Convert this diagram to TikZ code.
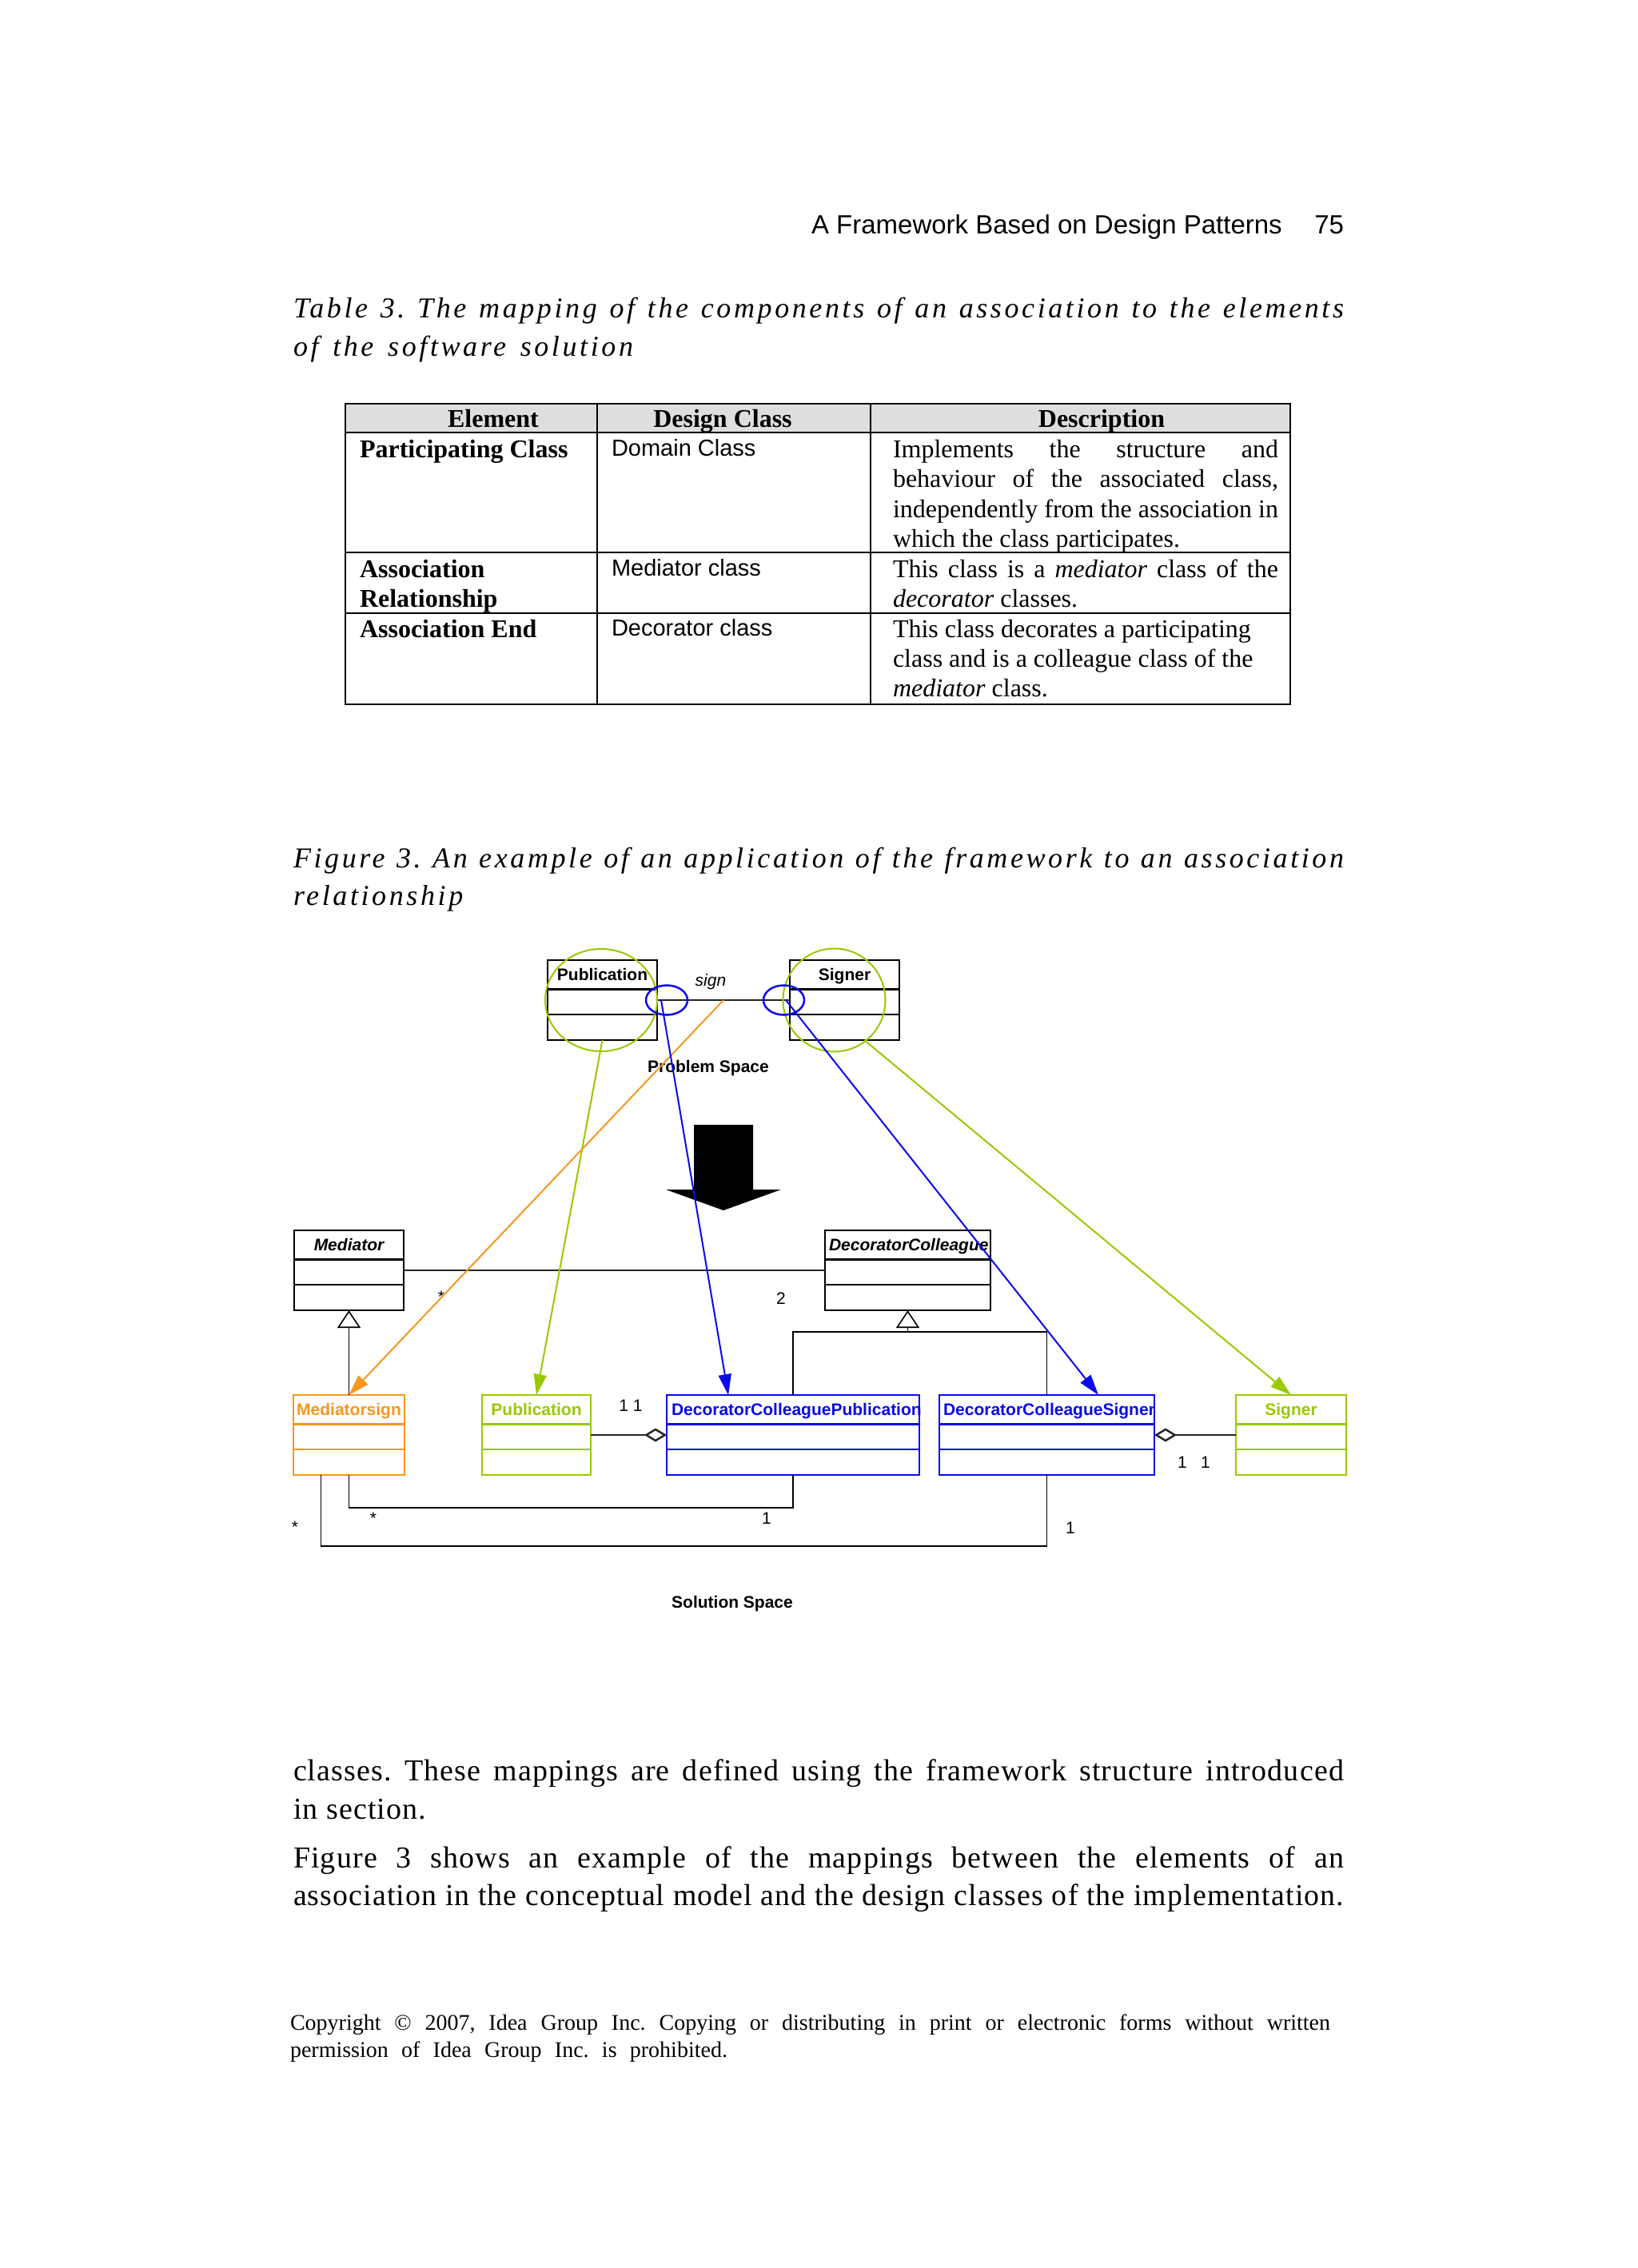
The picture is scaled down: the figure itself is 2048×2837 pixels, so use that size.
\documentclass[tikz,border=0pt]{standalone}
\usepackage{fontspec}
\usepackage{graphicx}
\setmainfont{Liberation Serif}
\setsansfont{Liberation Sans}
\newfontfamily\capfam{Liberation Serif}[LetterSpace=10]
\newfontfamily\bodyfam{Liberation Serif}[LetterSpace=3]
\usetikzlibrary{arrows.meta,shapes.geometric,calc}
\definecolor{umlorange}{RGB}{245,152,30}
\definecolor{umlgreen}{RGB}{153,201,0}
\definecolor{umlblue}{RGB}{10,10,235}
\definecolor{tablegray}{RGB}{222,222,222}
\newcommand\jl[2]{\setbox0=\hbox{#2}\ifdim\wd0<#1pt\relax\makebox[#1pt][s]{#2}\else\resizebox{#1pt}{\height}{#2}\fi}
\newcommand\dfont{\sffamily\bfseries\fontsize{21}{25}\selectfont}
\newcommand\difont{\sffamily\bfseries\itshape\fontsize{21}{25}\selectfont}
\newcommand\mfont{\sffamily\fontsize{21}{25}\selectfont}
\newcommand\tbfont{\rmfamily\fontsize{32}{38}\selectfont}
\newcommand\tsfont{\sffamily\fontsize{29}{35}\selectfont}
\newcommand\capfont{\capfam\itshape\fontsize{36}{44}\selectfont}
\newcommand\bodyfont{\bodyfam\fontsize{38}{48}\selectfont}
% #1 name, #2 left, #3 top, #4 right, #5 colour
\newcommand\klass[5]{%
  \node[klass, draw=#5, minimum width={#4-#2}, minimum height=100] (#1) at ({(#2+#4)/2},{#3+50}) {};
  \draw[#5, line width=2.5pt] (#2,#3+36.5) -- (#4,#3+36.5) (#2,#3+68) -- (#4,#3+68);
}
\begin{document}
\frenchspacing
\begin{tikzpicture}[x=1pt,y=-1pt,
  klass/.style={rectangle, line width=2.5pt, inner sep=0pt, outer sep=0pt},
  txt/.style={inner sep=0pt, outer sep=0pt},
  assoc/.style={draw=black!85, line width=2.5pt},
  thinl/.style={draw=black, line width=1.6pt},
  gen/.style={thinl, -{Triangle[fill=white, length=22pt, width=29pt]}},
  aggE/.style={assoc, -{Diamond[fill=white, length=28pt, width=17pt]}},
  aggS/.style={assoc, {Diamond[fill=white, length=28pt, width=17pt]}-},
  carr/.style={line width=2pt, -{Triangle[length=26pt, width=16pt]}},
  tline/.style={line width=2.5pt}
]
\fill[white] (0,0) rectangle (2048,2837);
\path[use as bounding box] (0,0) rectangle (2048,2837);

% ---------- running head ----------
\node[txt, anchor=base west] (hdr) at (1015,292) {\sffamily\fontsize{33}{40}\selectfont A Framework Based on Design Patterns};
\node[txt, anchor=base east] (pgno) at (1681,292) {\sffamily\fontsize{33}{40}\selectfont 75};

% ---------- table caption ----------
\node[txt, anchor=base west] (tc1) at (367,397) {\capfont\jl{1314}{Table 3. The mapping of the components of an association to the elements}};
\node[txt, anchor=base west] (tc2) at (367,445) {\capfont\jl{425}{of the software solution}};

% ---------- table ----------
\fill[tablegray] (432,505) rectangle (1614,541);
\draw[tline] (432,505) rectangle (1614,881);
\draw[tline] (432,541) -- (1614,541) (432,691) -- (1614,691) (432,767) -- (1614,767)
  (747,505) -- (747,881) (1089,505) -- (1089,881);

\node[txt, anchor=base] (h1) at (617,534) {\tbfont\bfseries Element};
\node[txt, anchor=base] (h2) at (904,534) {\tbfont\bfseries Design Class};
\node[txt, anchor=base] (h3) at (1378,534) {\tbfont\bfseries Description};

\node[txt, anchor=base west] (r1a) at (450,572) {\tbfont\bfseries Participating Class};
\node[txt, anchor=base west] (r1b) at (765,570) {\tsfont Domain Class};
\node[txt, anchor=base west] (r1c1) at (1117,572) {\tbfont\jl{482}{Implements the structure and}};
\node[txt, anchor=base west] (r1c2) at (1117,609) {\tbfont\jl{482}{behaviour of the associated class,}};
\node[txt, anchor=base west] (r1c3) at (1117,647) {\tbfont\jl{482}{independently from the association in}};
\node[txt, anchor=base west] (r1c4) at (1117,684) {\tbfont which the class participates.};

\node[txt, anchor=base west] (r2a1) at (450,722) {\tbfont\bfseries Association};
\node[txt, anchor=base west] (r2a2) at (450,759) {\tbfont\bfseries Relationship};
\node[txt, anchor=base west] (r2b) at (765,720) {\tsfont Mediator class};
\node[txt, anchor=base west] (r2c1) at (1117,722) {\tbfont\jl{482}{This class is a \textit{mediator} class of the}};
\node[txt, anchor=base west] (r2c2) at (1117,759) {\tbfont\textit{decorator} classes.};

\node[txt, anchor=base west] (r3a) at (450,797) {\tbfont\bfseries Association End};
\node[txt, anchor=base west] (r3b) at (765,795) {\tsfont Decorator class};
\node[txt, anchor=base west] (r3c1) at (1117,797) {\tbfont This class decorates a participating};
\node[txt, anchor=base west] (r3c2) at (1117,834) {\tbfont class and is a colleague class of the};
\node[txt, anchor=base west] (r3c3) at (1117,871) {\tbfont\textit{mediator} class.};

% ---------- figure caption ----------
\node[txt, anchor=base west] (fc1) at (367,1085) {\capfont\jl{1314}{Figure 3. An example of an application of the framework to an association}};
\node[txt, anchor=base west] (fc2) at (367,1132) {\capfont relationship};

% ---------- diagram: problem space ----------
\klass{pub}{685}{1201}{822}{black}
\klass{sig}{988}{1201}{1125}{black}
\draw[assoc] (pub.east) -- (sig.west);
\node[txt, anchor=base] (publ) at (753.5,1226) {\dfont Publication};
\node[txt, anchor=base] (sigl) at (1056.5,1226) {\dfont Signer};
\node[txt, anchor=base] (signl) at (889,1233) {\sffamily\itshape\fontsize{21}{25}\selectfont sign};
\node[txt, anchor=base] (pspace) at (886,1341) {\dfont Problem Space};

% block arrow
\fill[black] (868,1407) -- (942,1407) -- (942,1488) -- (977,1488) -- (905,1514) -- (833,1488) -- (868,1488) -- cycle;

% ---------- diagram: solution space ----------
\klass{med}{368}{1539}{505}{black}
\klass{dc}{1032}{1539}{1239}{black}
\klass{msign}{367}{1745}{506}{umlorange}
\klass{pubs}{603}{1745}{739}{umlgreen}
\klass{dcp}{834}{1745}{1150}{umlblue}
\klass{dcs}{1175}{1745}{1444}{umlblue}
\klass{sigs}{1546}{1745}{1684}{umlgreen}

\node[txt, anchor=base] (medl) at (436.5,1564) {\difont Mediator};
\node[txt, anchor=base west] (dcl) at (1037,1564) {\difont DecoratorColleague};
\node[txt, anchor=base] (msignl) at (436.5,1770) {\dfont\color{umlorange}Mediatorsign};
\node[txt, anchor=base] (pubsl) at (671,1770) {\dfont\color{umlgreen}Publication};
\node[txt, anchor=base west] (dcpl) at (840,1770) {\dfont\color{umlblue}DecoratorColleaguePublication};
\node[txt, anchor=base west] (dcsl) at (1180,1770) {\dfont\color{umlblue}DecoratorColleagueSigner};
\node[txt, anchor=base] (sigsl) at (1615,1770) {\dfont\color{umlgreen}Signer};

% association Mediator -- DecoratorColleague
\draw[assoc] (med.east) -- (dc.west);
\node[txt, anchor=base] (m1) at (552,1629) {\mfont *};
\node[txt, anchor=base] (m2) at (977,1631) {\mfont 2};

% generalizations
\draw[gen] (msign.north) -- (med.south);
\coordinate (dcj) at ($(dc.south)+(0,27)$);
\draw[thinl] (dcp.north) |- (dcj) -| (dcs.north);
\draw[gen] (dcj) -- (dc.south);

% aggregations
\draw[aggE] (pubs.east) -- (dcp.west);
\draw[aggS] (dcs.east) -- (sigs.west);
\node[txt, anchor=base] (m3) at (789,1765) {\mfont 1 1};
\node[txt, anchor=base] (m4) at (1479,1836) {\mfont 1};
\node[txt, anchor=base] (m5) at (1508,1836) {\mfont 1};

% lower associations
\draw[thinl] (msign.south) -- ++(0,41) -| (dcp.south);
\coordinate (msout) at ($(msign.south)+(-35,0)$);
\draw[thinl] (msout) -- ++(0,89) -| (dcs.south);
\node[txt, anchor=base] (m6) at (467,1906) {\mfont *};
\node[txt, anchor=base] (m7) at (959,1906) {\mfont 1};
\node[txt, anchor=base] (m8) at (369,1917) {\mfont *};
\node[txt, anchor=base] (m9) at (1339,1918) {\mfont 1};

\node[txt, anchor=base] (sspace) at (916,2011) {\dfont Solution Space};

% ---------- mapping marks ----------
\node[ellipse, draw=umlgreen, line width=2pt, minimum width=140pt, minimum height=128pt, inner sep=0pt] (pubc) at (752,1251) {};
\node[ellipse, draw=umlgreen, line width=2pt, minimum width=128pt, minimum height=129pt, inner sep=0pt] (sigc) at (1043.5,1251) {};
\node[ellipse, draw=umlblue, line width=2.5pt, minimum width=52pt, minimum height=37pt, inner sep=0pt] (ell1) at (834,1251) {};
\node[ellipse, draw=umlblue, line width=2.5pt, minimum width=51pt, minimum height=37pt, inner sep=0pt] (ell2) at (980.5,1251) {};

\coordinate (signmid) at ($(pub.east)!0.5!(sig.west)$);
\coordinate (pubend) at ($(pub.east)+(5,0)$);
\coordinate (sigend) at ($(sig.west)+(-5,0)$);
\coordinate (sigfoot) at ($(sig.south west)!0.68!(sig.south east)$);

\draw[carr, umlgreen] (pub.south) -- (pubs.north);
\draw[carr, umlorange] (signmid) -- (msign.north);
\draw[carr, umlblue] (pubend) -- ($(dcp.north west)!0.244!(dcp.north east)$);
\draw[carr, umlblue] (sigend) -- ($(dcs.north west)!0.74!(dcs.north east)$);
\draw[carr, umlgreen] (sigfoot) -- (sigs.north);

% ---------- body text ----------
\node[txt, anchor=base west] (b1) at (367,2227) {\bodyfont\jl{1314}{classes. These mappings are defined using the framework structure introduced}};
\node[txt, anchor=base west] (b2) at (367,2275) {\bodyfont in section.};
\node[txt, anchor=base west] (b3) at (367,2336) {\bodyfont\jl{1314}{Figure 3 shows an example of the mappings between the elements of an}};
\node[txt, anchor=base west] (b4) at (367,2383) {\bodyfont\jl{1314}{association in the conceptual model and the design classes of the implementation.}};

% ---------- copyright ----------
\node[txt, anchor=base west] (c1) at (363,2539) {\rmfamily\fontsize{28}{34}\selectfont\jl{1301}{Copyright © 2007, Idea Group Inc. Copying or distributing in print or electronic forms without written}};
\node[txt, anchor=base west] (c2) at (363,2573) {\rmfamily\fontsize{28}{34}\selectfont\jl{547}{permission of Idea Group Inc. is prohibited.}};
\end{tikzpicture}
\end{document}
